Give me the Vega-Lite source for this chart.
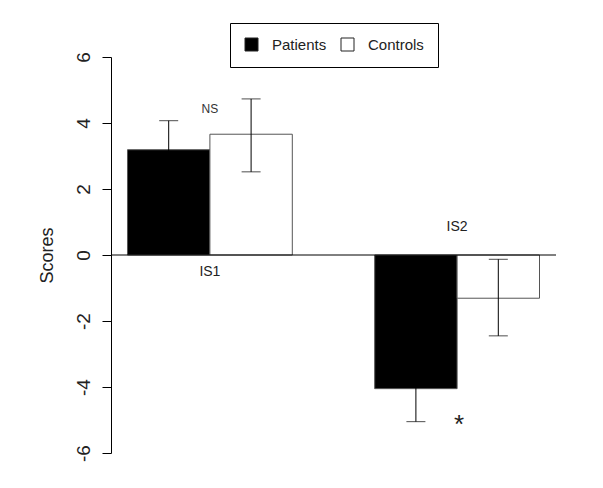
{
  "$schema": "https://vega.github.io/schema/vega-lite/v6.json",
  "autosize": {"type": "none"},
  "padding": {"left": 111, "top": 57, "right": 47, "bottom": 35},
  "width": 445,
  "height": 396,
  "background": "white",
  "datasets": {
    "scores": [
      {"group": "IS1", "cond": "Patients", "value": 3.19, "lo": 2.29, "hi": 4.07},
      {"group": "IS1", "cond": "Controls", "value": 3.66, "lo": 2.52, "hi": 4.73},
      {"group": "IS2", "cond": "Patients", "value": -4.05, "lo": -5.05, "hi": -3.05},
      {"group": "IS2", "cond": "Controls", "value": -1.31, "lo": -2.45, "hi": -0.13}
    ],
    "notes": [
      {"group": "IS1", "label": "NS", "value": 4.43, "kind": "small"},
      {"group": "IS1", "label": "IS1", "value": -0.53, "kind": "name"},
      {"group": "IS2", "label": "IS2", "value": 0.85, "kind": "name"},
      {"group": "IS2", "label": "*", "value": -5.03, "kind": "star"}
    ],
    "baseline": [{"zero": 0}]
  },
  "layer": [
    {
      "data": {"name": "scores"},
      "mark": {"type": "bar", "stroke": "#555555", "strokeWidth": 1},
      "encoding": {
        "x": {"field": "group", "type": "nominal", "axis": null, "scale": {"domain": ["IS1", "IS2"], "paddingInner": 0.3333, "paddingOuter": 0.0667}},
        "xOffset": {"field": "cond", "type": "nominal", "scale": {"domain": ["Patients", "Controls"], "paddingInner": 0, "paddingOuter": 0}},
        "y": {
          "field": "value",
          "type": "quantitative",
          "title": "Scores",
          "scale": {"domain": [-6, 6], "nice": false, "zero": false},
          "axis": {
            "values": [-6, -4, -2, 0, 2, 4, 6],
            "labelExpr": "datum.value < 0 ? '-' + abs(datum.value) : '' + datum.value",
            "grid": false,
            "tickSize": 9,
            "tickColor": "black",
            "domainColor": "black",
            "labelAngle": 270,
            "labelAlign": "center",
            "labelBaseline": "alphabetic",
            "labelPadding": 13,
            "labelFontSize": 19,
            "labelColor": "#222222",
            "labelFont": "Liberation Sans",
            "titleFont": "Liberation Sans",
            "titleFontSize": 18,
            "titleFontWeight": "normal",
            "titleColor": "#222222",
            "titlePadding": 18
          }
        },
        "y2": {"datum": 0},
        "fill": {
          "field": "cond",
          "type": "nominal",
          "scale": {"domain": ["Patients", "Controls"], "range": ["black", "white"]},
          "legend": {
            "title": null,
            "orient": "none",
            "legendX": 119,
            "legendY": -34,
            "direction": "horizontal",
            "symbolType": "square",
            "symbolSize": 169,
            "symbolStrokeColor": "#222222",
            "symbolStrokeWidth": 1,
            "labelFontSize": 15,
            "labelFont": "Liberation Sans",
            "labelColor": "#222222",
            "labelOffset": 13,
            "columnPadding": 12,
            "padding": 14,
            "strokeColor": "black",
            "fillColor": "white"
          }
        }
      }
    },
    {
      "data": {"name": "scores"},
      "mark": {"type": "rule", "color": "black", "strokeWidth": 1},
      "encoding": {
        "x": {"field": "group", "type": "nominal"},
        "xOffset": {"field": "cond", "type": "nominal"},
        "y": {"field": "lo", "type": "quantitative"},
        "y2": {"field": "hi"}
      }
    },
    {
      "data": {"name": "scores"},
      "mark": {"type": "tick", "color": "black", "size": 19, "thickness": 1, "orient": "horizontal"},
      "encoding": {
        "x": {"field": "group", "type": "nominal"},
        "xOffset": {"field": "cond", "type": "nominal"},
        "y": {"field": "lo", "type": "quantitative"}
      }
    },
    {
      "data": {"name": "scores"},
      "mark": {"type": "tick", "color": "black", "size": 19, "thickness": 1, "orient": "horizontal"},
      "encoding": {
        "x": {"field": "group", "type": "nominal"},
        "xOffset": {"field": "cond", "type": "nominal"},
        "y": {"field": "hi", "type": "quantitative"}
      }
    },
    {
      "data": {"name": "baseline"},
      "mark": {"type": "rule", "color": "black", "strokeWidth": 1},
      "encoding": {
        "y": {"field": "zero", "type": "quantitative"}
      }
    },
    {
      "data": {"name": "notes"},
      "transform": [{"filter": "datum.kind == 'name'"}],
      "mark": {"type": "text", "font": "Liberation Sans", "fontSize": 14, "color": "#222222", "baseline": "middle"},
      "encoding": {
        "x": {"field": "group", "type": "nominal"},
        "y": {"field": "value", "type": "quantitative"},
        "text": {"field": "label"}
      }
    },
    {
      "data": {"name": "notes"},
      "transform": [{"filter": "datum.kind == 'small'"}],
      "mark": {"type": "text", "font": "Liberation Sans", "fontSize": 12, "color": "#333333", "baseline": "middle"},
      "encoding": {
        "x": {"field": "group", "type": "nominal"},
        "y": {"field": "value", "type": "quantitative"},
        "text": {"field": "label"}
      }
    },
    {
      "data": {"name": "notes"},
      "transform": [{"filter": "datum.kind == 'star'"}],
      "mark": {"type": "text", "font": "Liberation Sans", "fontSize": 26, "color": "#222222", "baseline": "middle", "dx": 2, "dy": 4},
      "encoding": {
        "x": {"field": "group", "type": "nominal"},
        "y": {"field": "value", "type": "quantitative"},
        "text": {"field": "label"}
      }
    }
  ],
  "config": {
    "view": {"stroke": null}
  }
}
